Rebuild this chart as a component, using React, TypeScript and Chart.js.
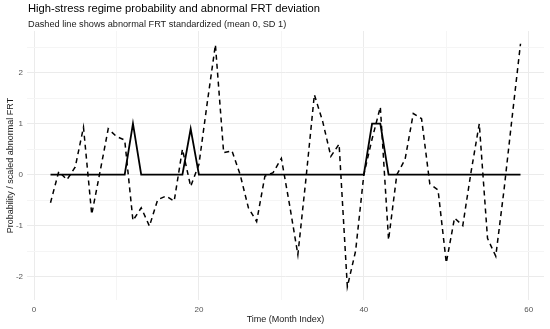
import { useEffect, useRef } from "react";
import { Chart, registerables } from "chart.js";

Chart.register(...registerables);

const TITLE = "High-stress regime probability and abnormal FRT deviation";
const SUBTITLE = "Dashed line shows abnormal FRT standardized (mean 0, SD 1)";
const X_TITLE = "Time (Month Index)";
const Y_TITLE = "Probability / scaled abnormal FRT";

const months = [
  2, 3, 4, 5, 6, 7, 8, 9, 10, 11, 12, 13, 14, 15, 16, 17, 18, 19, 20, 21,
  22, 23, 24, 25, 26, 27, 28, 29, 30, 31, 32, 33, 34, 35, 36, 37, 38, 39, 40,
  41, 42, 43, 44, 45, 46, 47, 48, 49, 50, 51, 52, 53, 54, 55, 56, 57, 58, 59,
];

const abnormalFrtZ = [
  -0.55, 0.06, -0.1, 0.15, 0.93, -0.78, 0.05, 0.9, 0.75, 0.68, -0.9, -0.65,
  -1.01, -0.49, -0.42, -0.52, 0.5, -0.23, 0.2, 1.4, 2.55, 0.43, 0.47, 0.0,
  -0.65, -0.92, -0.03, 0.04, 0.32, -0.6, -1.57, -0.05, 1.57, 1.05, 0.36, 0.6,
  -2.2, -1.5, 0.0, 0.7, 1.33, -1.28, 0.0, 0.3, 1.2, 1.1, -0.18, -0.3, -1.73,
  -0.85, -1.0, 0.05, 1.0, -1.25, -1.6, -0.3, 1.15, 2.57,
];

const highStressProb = [
  0, 0, 0, 0, 0, 0, 0, 0, 0, 0, 1, 0, 0, 0, 0, 0, 0, 0.9, 0, 0, 0, 0, 0, 0,
  0, 0, 0, 0, 0, 0, 0, 0, 0, 0, 0, 0, 0, 0, 0, 1, 1, 0, 0, 0, 0, 0, 0, 0, 0,
  0, 0, 0, 0, 0, 0, 0, 0, 0,
];

const xGridTicks = [0, 10, 20, 30, 40, 50, 60];
const xLabelTicks = [0, 20, 40, 60];
const yGridTicks = [-2, -1.5, -1, -0.5, 0, 0.5, 1, 1.5, 2, 2.5];
const yLabelTicks = [-2, -1, 0, 1, 2];

const FONT = "'Liberation Sans', Arial, sans-serif";

export default function App() {
  const ref = useRef<HTMLCanvasElement | null>(null);

  useEffect(() => {
    document.body.style.margin = "0";
    const canvas = ref.current;
    if (!canvas) return;

    const titlePlugin = {
      id: "customTitles",
      beforeDraw(chart: any) {
        const ctx = chart.ctx;
        ctx.save();
        ctx.fillStyle = "#ffffff";
        ctx.fillRect(0, 0, chart.width, chart.height);
        ctx.restore();
      },
      afterDraw(chart: any) {
        const ctx = chart.ctx;
        ctx.save();
        ctx.textAlign = "left";
        ctx.textBaseline = "alphabetic";
        ctx.fillStyle = "#000000";
        ctx.font = `11.2px ${FONT}`;
        ctx.fillText(TITLE, 28, 12);
        ctx.fillStyle = "#1a1a1a";
        ctx.font = `9.2px ${FONT}`;
        ctx.fillText(SUBTITLE, 28, 26.5);
        ctx.restore();
      },
    };

    const chart = new Chart(canvas, {
      type: "line",
      data: {
        datasets: [
          {
            label: "abnormal",
            data: months.map((m, i) => ({ x: m, y: abnormalFrtZ[i] })),
            borderColor: "#000000",
            borderWidth: 1.5,
            borderDash: [5, 4],
            pointRadius: 0,
            tension: 0,
            fill: false,
          },
          {
            label: "prob",
            data: months.map((m, i) => ({ x: m, y: highStressProb[i] })),
            borderColor: "#000000",
            borderWidth: 1.8,
            pointRadius: 0,
            tension: 0,
            fill: false,
          },
        ],
      },
      options: {
        animation: false,
        responsive: false,
        devicePixelRatio: 1,
        layout: { padding: { left: 0, right: 6, top: 31, bottom: 0 } },
        plugins: {
          legend: { display: false },
          title: { display: false },
          tooltip: { enabled: false },
        },
        scales: {
          x: {
            type: "linear",
            min: -0.85,
            max: 61.85,
            afterBuildTicks: (s: any) => {
              s.ticks = xGridTicks.map((v) => ({ value: v }));
            },
            afterFit: (s: any) => {
              s.height = 29;
            },
            ticks: {
              autoSkip: false,
              maxRotation: 0,
              padding: 5,
              color: "#555555",
              font: { family: FONT, size: 8 },
              callback: (v: any) => (xLabelTicks.includes(Number(v)) ? String(v) : ""),
            },
            grid: {
              drawTicks: false,
              color: (c: any) =>
                xLabelTicks.includes(c.tick?.value) ? "#ebebeb" : "#f5f5f5",
              lineWidth: 1,
            },
            border: { display: false },
            title: {
              display: true,
              text: X_TITLE,
              color: "#1a1a1a",
              font: { family: FONT, size: 9 },
              padding: { top: 0, bottom: 4 },
            },
          },
          y: {
            type: "linear",
            min: -2.46,
            max: 2.82,
            afterBuildTicks: (s: any) => {
              s.ticks = yGridTicks.map((v) => ({ value: v }));
            },
            afterFit: (s: any) => {
              s.width = 27;
            },
            ticks: {
              autoSkip: false,
              padding: 4,
              color: "#555555",
              font: { family: FONT, size: 8 },
              callback: (v: any) => (yLabelTicks.includes(Number(v)) ? String(v) : ""),
            },
            grid: {
              drawTicks: false,
              color: (c: any) =>
                yLabelTicks.includes(c.tick?.value) ? "#ebebeb" : "#f5f5f5",
              lineWidth: 1,
            },
            border: { display: false },
            title: {
              display: true,
              text: Y_TITLE,
              color: "#1a1a1a",
              font: { family: FONT, size: 9 },
              padding: { top: 5.5, bottom: 0 },
            },
          },
        },
      },
      plugins: [titlePlugin],
    });

    return () => chart.destroy();
  }, []);

  return (
    <div style={{ width: 550, height: 329 }}>
      <canvas ref={ref} width={550} height={329} style={{ display: "block" }} />
    </div>
  );
}
